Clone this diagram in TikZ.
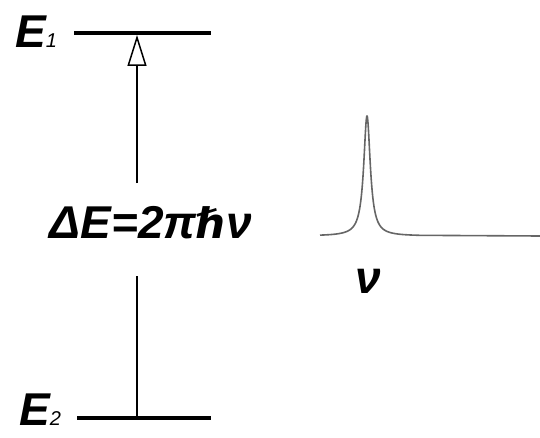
\documentclass[tikz,border=0pt]{standalone}
\usepackage{fontspec}
\setmainfont{Liberation Sans}
\newfontfamily\hbarfont{DejaVu Sans}
\usetikzlibrary{arrows.meta}

\begin{document}
\begin{tikzpicture}[x=1pt,y=1pt,line join=round,
  level/.style={line width=3.5pt},
  lbl/.style={font=\fontsize{46}{50}\selectfont\bfseries\itshape,inner sep=0pt},
  trans/.style={line width=1.5pt},
  spec/.style={black!60,line width=1.6pt}]
  \useasboundingbox (0,0) rectangle (540,437);
  % energy levels
  \coordinate (hiL) at (74,404);
  \coordinate (hiR) at (211,404);
  \coordinate (loL) at (77,19);
  \coordinate (loR) at (211,19);
  \coordinate (hi) at (137,402);
  \coordinate (lo) at (137,19);
  \draw[level] (hiL) -- (hiR);
  \draw[level] (loL) -- (loR);
  \node[lbl,anchor=base west] (E1) at (15,389) {E{\fontsize{20}{20}\selectfont\mdseries 1}};
  \node[lbl,anchor=base west] (E2) at (19,12) {E{\fontsize{20}{20}\selectfont\mdseries 2}};
  % transition
  \node[lbl,anchor=base] (dE) at (151,199) {ΔE=2π{\hbarfont\fontsize{42}{50}\selectfont ℏ}ν};
  \draw[trans] (lo) -- ([yshift=-38pt]dE.base -| lo);
  \draw[trans,-{Triangle[open,length=31pt,width=19pt]}] ([yshift=55pt]dE.base -| lo) -- (hi);
  % line shape
  \draw[spec] plot[domain=320:420,samples=401] (\x,{201+120*0.16/(((\x-367)/10)^2+0.16)}) -- (540,201);
  \node[lbl,anchor=base] (nu) at (368,144) {ν};
\end{tikzpicture}
\end{document}
